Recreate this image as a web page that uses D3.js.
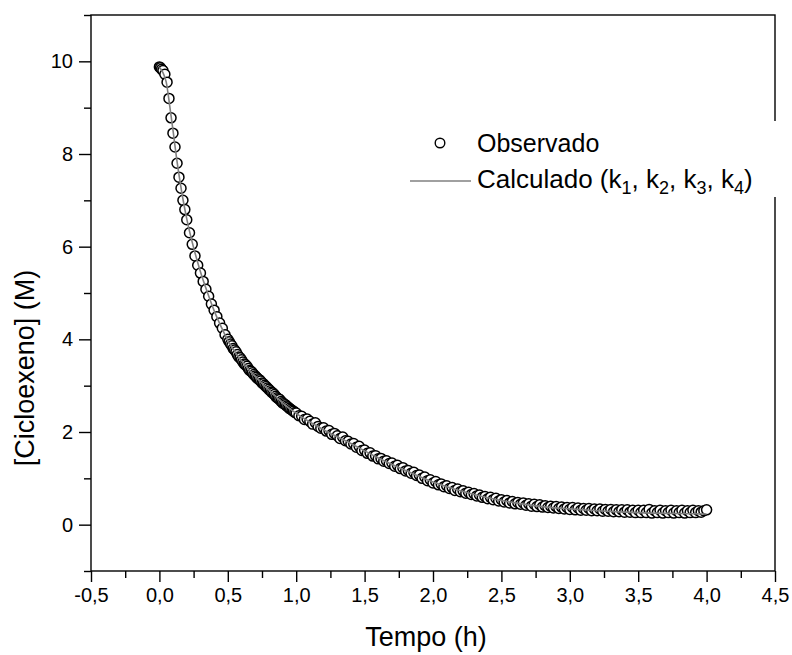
<!DOCTYPE html>
<html lang="pt">
    <head>
        <meta charset="utf-8">
        <title>Cicloexeno vs Tempo</title>
        <script src="https://d3js.org/d3.v7.min.js"></script>
        <style>
            body { margin: 0; background: #fff; }
            text { font-family: "Liberation Sans", Arial, sans-serif; fill: #000; }
        </style>
    </head>
    <body>
    <div id="mainDiv"></div>

        <script type="text/javascript">
            // data: [tempo (h), cicloexeno (M)]
            const observado = [
                [0.000, 9.88], [0.008, 9.86], [0.016, 9.83], [0.026, 9.80], [0.040, 9.72],
                [0.056, 9.55], [0.070, 9.20], [0.085, 8.78], [0.099, 8.45], [0.114, 8.15],
                [0.129, 7.80], [0.143, 7.50], [0.158, 7.26], [0.172, 7.00], [0.186, 6.80],
                [0.20, 6.58], [0.22, 6.30], [0.24, 6.05], [0.26, 5.80], [0.28, 5.60],
                [0.30, 5.43], [0.32, 5.25], [0.34, 5.08], [0.36, 4.93], [0.38, 4.76],
                [0.40, 4.63], [0.42, 4.49], [0.44, 4.35], [0.46, 4.24], [0.48, 4.10],
                [0.50, 4.00], [0.51, 3.95], [0.52, 3.90], [0.53, 3.86], [0.54, 3.80],
                [0.55, 3.77], [0.56, 3.73], [0.57, 3.67], [0.58, 3.62], [0.59, 3.60],
                [0.60, 3.56], [0.61, 3.51], [0.62, 3.47], [0.63, 3.45], [0.64, 3.42],
                [0.65, 3.37], [0.66, 3.33], [0.67, 3.31], [0.68, 3.28], [0.69, 3.24],
                [0.70, 3.21], [0.71, 3.18], [0.72, 3.15], [0.73, 3.13], [0.74, 3.10],
                [0.75, 3.06], [0.76, 3.04], [0.77, 3.01], [0.78, 2.98], [0.79, 2.95],
                [0.80, 2.92], [0.81, 2.89], [0.82, 2.86], [0.83, 2.84], [0.84, 2.81],
                [0.85, 2.77], [0.86, 2.74], [0.87, 2.72], [0.88, 2.70], [0.89, 2.66],
                [0.90, 2.63], [0.91, 2.61], [0.92, 2.59], [0.93, 2.56], [0.94, 2.54],
                [0.95, 2.51], [0.96, 2.49], [0.97, 2.47], [0.98, 2.45], [0.99, 2.42],
                [1.00, 2.41], [1.02, 2.35], [1.04, 2.34], [1.06, 2.27], [1.08, 2.28],
                [1.10, 2.23], [1.12, 2.17], [1.14, 2.20], [1.16, 2.12], [1.18, 2.08],
                [1.20, 2.09], [1.22, 2.02], [1.24, 2.03], [1.26, 1.95], [1.28, 1.97],
                [1.30, 1.92], [1.32, 1.86], [1.34, 1.89], [1.36, 1.81], [1.38, 1.80],
                [1.40, 1.74], [1.42, 1.75], [1.44, 1.67], [1.46, 1.69], [1.48, 1.60],
                [1.50, 1.61], [1.52, 1.54], [1.54, 1.55], [1.56, 1.48], [1.58, 1.49],
                [1.60, 1.42], [1.62, 1.43], [1.64, 1.37], [1.66, 1.38], [1.68, 1.32],
                [1.70, 1.33], [1.72, 1.26], [1.74, 1.28], [1.76, 1.21], [1.78, 1.23],
                [1.80, 1.16], [1.82, 1.17], [1.84, 1.11], [1.86, 1.13], [1.88, 1.06],
                [1.90, 1.07], [1.92, 1.00], [1.94, 1.03], [1.96, 0.95], [1.98, 0.97],
                [2.00, 0.90], [2.02, 0.93], [2.04, 0.86], [2.06, 0.88], [2.08, 0.82],
                [2.10, 0.84], [2.12, 0.78], [2.14, 0.80], [2.16, 0.74], [2.18, 0.77],
                [2.20, 0.71], [2.22, 0.73], [2.24, 0.68], [2.26, 0.70], [2.28, 0.65],
                [2.30, 0.67], [2.32, 0.62], [2.34, 0.64], [2.36, 0.59], [2.38, 0.61],
                [2.40, 0.56], [2.42, 0.59], [2.44, 0.54], [2.46, 0.57], [2.48, 0.51],
                [2.50, 0.54], [2.52, 0.49], [2.54, 0.52], [2.56, 0.47], [2.58, 0.50],
                [2.60, 0.45], [2.62, 0.48], [2.64, 0.44], [2.66, 0.47], [2.68, 0.42],
                [2.70, 0.45], [2.72, 0.40], [2.74, 0.44], [2.76, 0.39], [2.78, 0.43],
                [2.80, 0.38], [2.82, 0.41], [2.84, 0.37], [2.86, 0.40], [2.88, 0.36],
                [2.90, 0.39], [2.92, 0.35], [2.94, 0.38], [2.96, 0.34], [2.98, 0.37],
                [3.00, 0.33], [3.02, 0.37], [3.04, 0.32], [3.06, 0.36], [3.08, 0.31],
                [3.10, 0.35], [3.12, 0.31], [3.14, 0.35], [3.16, 0.30], [3.18, 0.34],
                [3.20, 0.30], [3.22, 0.34], [3.24, 0.29], [3.26, 0.33], [3.28, 0.29],
                [3.30, 0.33], [3.32, 0.28], [3.34, 0.32], [3.36, 0.28], [3.38, 0.32],
                [3.40, 0.27], [3.42, 0.32], [3.44, 0.27], [3.46, 0.31], [3.48, 0.26],
                [3.50, 0.31], [3.52, 0.26], [3.54, 0.31], [3.56, 0.26], [3.58, 0.33],
                [3.60, 0.25], [3.62, 0.30], [3.64, 0.26], [3.66, 0.31], [3.68, 0.25],
                [3.70, 0.30], [3.72, 0.26], [3.74, 0.31], [3.76, 0.25], [3.78, 0.30],
                [3.80, 0.26], [3.82, 0.31], [3.84, 0.25], [3.86, 0.30], [3.88, 0.26],
                [3.90, 0.31], [3.92, 0.26], [3.94, 0.30], [3.96, 0.27], [3.98, 0.30],
                [4.00, 0.32]
            ]

            const calculado = [
                [0.000, 9.87], [0.025, 9.76], [0.050, 9.55], [0.075, 9.05], [0.100, 8.50],
                [0.125, 7.92], [0.150, 7.42], [0.175, 6.98], [0.200, 6.60], [0.250, 5.98],
                [0.300, 5.46], [0.350, 5.02], [0.400, 4.62], [0.450, 4.28], [0.500, 3.98],
                [0.600, 3.54], [0.700, 3.20], [0.800, 2.91], [0.900, 2.63], [1.000, 2.40],
                [1.200, 2.05], [1.400, 1.75], [1.600, 1.44], [1.800, 1.17], [2.000, 0.92],
                [2.200, 0.73], [2.400, 0.58], [2.600, 0.47], [2.800, 0.39], [3.000, 0.34],
                [3.200, 0.30], [3.400, 0.27], [3.600, 0.25], [3.800, 0.24], [4.000, 0.23]
            ]

            const xTicks = [-0.5, 0, 0.5, 1, 1.5, 2, 2.5, 3, 3.5, 4, 4.5]
            const xTickLabels = ['-0,5', '0,0', '0,5', '1,0', '1,5', '2,0', '2,5', '3,0', '3,5', '4,0', '4,5']
            const xMinorTicks = [-0.25, 0.25, 0.75, 1.25, 1.75, 2.25, 2.75, 3.25, 3.75, 4.25]
            const yTicks = [0, 2, 4, 6, 8, 10]
            const yTickLabels = ['0', '2', '4', '6', '8', '10']
            const yMinorTicks = [-1, 1, 3, 5, 7, 9, 11]

            const width = 792
            const height = 655

            const margins = {
                top: 15,
                bottom: 84,
                left: 91,
                right: 17
            }

            const bounded = {
                width: width - margins.left - margins.right,
                height: height - margins.top - margins.bottom
            }

            const svg = d3.select('#mainDiv').append('svg')
                .attr('width', width)
                .attr('height', height)

            const group = svg.append('g')
                .attr('transform', `translate(${margins.left}, ${margins.top})`)

            const xScale = d3.scaleLinear().domain([-0.5, 4.5]).range([0, bounded.width])
            const yScale = d3.scaleLinear().domain([-1, 11]).range([bounded.height, 0])

            // major + minor ticks
            const xAxis = d3.axisBottom(xScale)
                .tickValues(xTicks)
                .tickSize(11)
                .tickPadding(6)
                .tickFormat((d, i) => xTickLabels[i])
            const xMinor = d3.axisBottom(xScale).tickValues(xMinorTicks).tickSize(7).tickFormat('')
            const yAxis = d3.axisLeft(yScale)
                .tickValues(yTicks)
                .tickSize(12)
                .tickPadding(6)
                .tickFormat((d, i) => yTickLabels[i])
            const yMinor = d3.axisLeft(yScale).tickValues(yMinorTicks).tickSize(7).tickFormat('')

            const styleAxis = (g) => {
                g.select('.domain').remove()
                g.selectAll('line').attr('stroke', '#000').attr('stroke-width', 1.4)
                g.selectAll('text').style('font-size', '20px')
                    .style('font-family', '"Liberation Sans", Arial, sans-serif')
            }

            group.append('g').attr('transform', `translate(0, ${bounded.height})`).call(xAxis).call(styleAxis)
            group.append('g').attr('transform', `translate(0, ${bounded.height})`).call(xMinor).call(styleAxis)
            group.append('g').call(yAxis).call(styleAxis)
            group.append('g').call(yMinor).call(styleAxis)

            // frame
            group.append('rect')
                .attr('x', 0).attr('y', 0)
                .attr('width', bounded.width).attr('height', bounded.height)
                .attr('fill', 'none')
                .attr('stroke', '#000')
                .attr('stroke-width', 1.4)

            // observed points
            group.selectAll('circle.obs')
                .data(observado)
                .enter()
                .append('circle')
                .attr('class', 'obs')
                .attr('cx', d => xScale(d[0]))
                .attr('cy', d => yScale(d[1]))
                .attr('r', 5)
                .attr('fill', '#fff')
                .attr('stroke', '#000')
                .attr('stroke-width', 1.5)

            // calculated curve
            const line = d3.line()
                .x(d => xScale(d[0]))
                .y(d => yScale(d[1]))
                .curve(d3.curveMonotoneX)

            group.append('path')
                .datum(calculado)
                .attr('d', line)
                .attr('fill', 'none')
                .attr('stroke', '#808080')
                .attr('stroke-width', 1.6)

            // legend (white box hides part of the right frame)
            const legend = svg.append('g')
            legend.append('rect')
                .attr('x', 400).attr('y', 121)
                .attr('width', 382).attr('height', 76)
                .attr('fill', '#fff')
            legend.append('circle')
                .attr('cx', 440).attr('cy', 143)
                .attr('r', 4.8)
                .attr('fill', '#fff')
                .attr('stroke', '#000')
                .attr('stroke-width', 1.4)
            legend.append('text')
                .attr('x', 477).attr('y', 152)
                .style('font-size', '25px')
                .text('Observado')
            legend.append('line')
                .attr('x1', 410).attr('x2', 471)
                .attr('y1', 181).attr('y2', 181)
                .attr('stroke', '#808080')
                .attr('stroke-width', 1.6)

            const calcText = legend.append('text')
                .attr('x', 477).attr('y', 188)
                .style('font-size', '26px')
            calcText.append('tspan').text('Calculado (k')
            const subs = ['1', '2', '3', '4']
            subs.forEach((s, i) => {
                calcText.append('tspan').attr('dy', 6).style('font-size', '18px').text(s)
                calcText.append('tspan').attr('dy', -6).text(i < subs.length - 1 ? ', k' : ')')
            })

            // axis titles
            svg.append('text')
                .attr('x', 426)
                .attr('y', 646)
                .attr('text-anchor', 'middle')
                .style('font-size', '27px')
                .text('Tempo (h)')

            svg.append('text')
                .attr('transform', 'translate(34, 368) rotate(-90)')
                .attr('text-anchor', 'middle')
                .style('font-size', '27px')
                .text('[Cicloexeno] (M)')
        </script>
    </body>
</html>
